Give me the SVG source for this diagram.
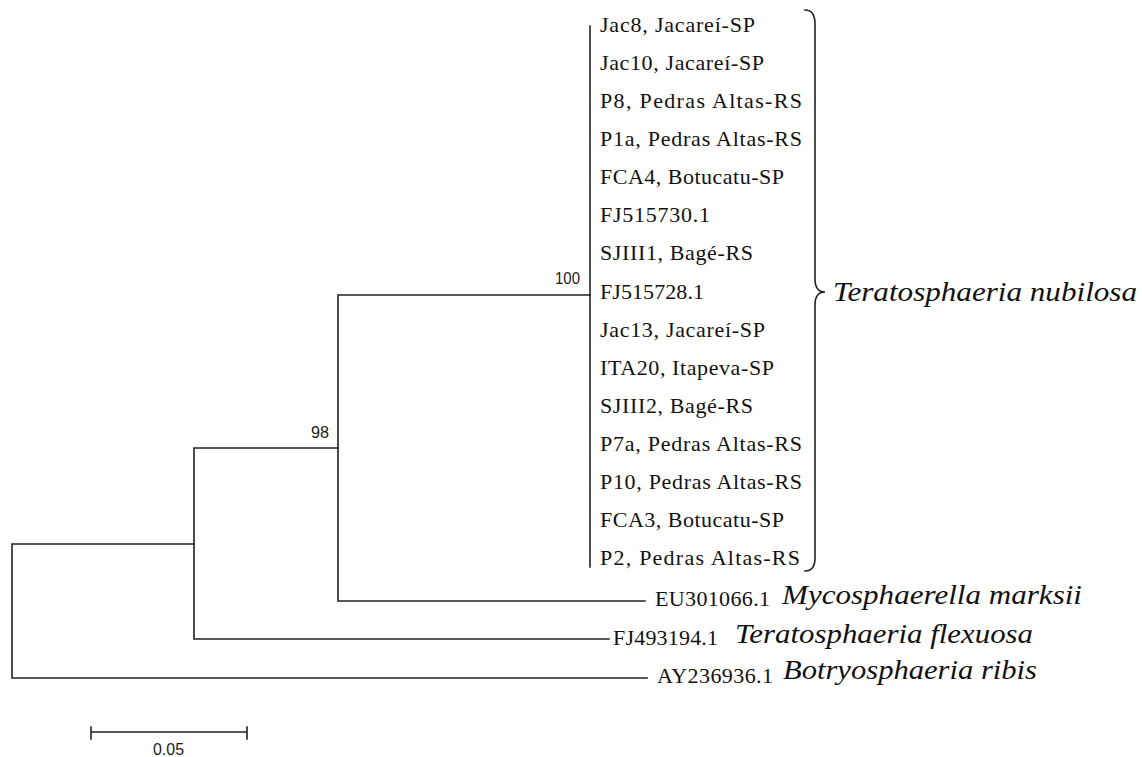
<svg xmlns="http://www.w3.org/2000/svg" width="1142" height="757" viewBox="0 0 1142 757">
<style>
.br{fill:none;stroke:#222;stroke-width:1.6;stroke-linecap:square}
.lbl{font-family:'Liberation Serif','Times New Roman',Tinos,serif;font-size:22px;fill:#111}
.sp{font-family:'Liberation Serif','Times New Roman',Tinos,serif;font-style:italic;font-size:28px;fill:#111}
.bs{font-family:'Liberation Sans',Arial,sans-serif;font-size:17px;fill:#222}
</style>
<rect width="1142" height="757" fill="#fff"/>
<g id="connectors">
<path class="br" d="M12 544 V678 M12 544 H194 M12 678 H647"/>
<path class="br" d="M194 448 V639 M194 448 H338 M194 639 H609"/>
<path class="br" d="M338 295 V601 M338 295 H590 M338 601 H645"/>
<path class="br" d="M590 26 V567"/>
<path class="br" d="M91 732 H247 M91 727 V739 M247 727 V739"/>
<path class="br" d="M805 10 Q815 10 815 24 L815 279 Q815 292 825 292 Q815 292 815 305 L815 558 Q815 571 805 571" stroke-width="1.8"/>
</g>
<g id="n-jac8"><text class="lbl" x="600" y="32" textLength="155" lengthAdjust="spacing">Jac8, Jacareí-SP</text></g>
<g id="n-jac10"><text class="lbl" x="600" y="70" textLength="164" lengthAdjust="spacing">Jac10, Jacareí-SP</text></g>
<g id="n-p8"><text class="lbl" x="600" y="108" textLength="202" lengthAdjust="spacing">P8, Pedras Altas-RS</text></g>
<g id="n-p1a"><text class="lbl" x="600" y="146" textLength="202" lengthAdjust="spacing">P1a, Pedras Altas-RS</text></g>
<g id="n-fca4"><text class="lbl" x="600" y="184" textLength="184" lengthAdjust="spacing">FCA4, Botucatu-SP</text></g>
<g id="n-fj515730"><text class="lbl" x="600" y="222" textLength="110" lengthAdjust="spacing">FJ515730.1</text></g>
<g id="n-sjiii1"><text class="lbl" x="600" y="260" textLength="153" lengthAdjust="spacing">SJIII1, Bagé-RS</text></g>
<g id="n-fj515728"><text class="lbl" x="600" y="299" textLength="104" lengthAdjust="spacing">FJ515728.1</text></g>
<g id="n-jac13"><text class="lbl" x="600" y="337" textLength="165" lengthAdjust="spacing">Jac13, Jacareí-SP</text></g>
<g id="n-ita20"><text class="lbl" x="600" y="375" textLength="174" lengthAdjust="spacing">ITA20, Itapeva-SP</text></g>
<g id="n-sjiii2"><text class="lbl" x="600" y="413" textLength="153" lengthAdjust="spacing">SJIII2, Bagé-RS</text></g>
<g id="n-p7a"><text class="lbl" x="600" y="451" textLength="202" lengthAdjust="spacing">P7a, Pedras Altas-RS</text></g>
<g id="n-p10"><text class="lbl" x="600" y="489" textLength="202" lengthAdjust="spacing">P10, Pedras Altas-RS</text></g>
<g id="n-fca3"><text class="lbl" x="600" y="527" textLength="184" lengthAdjust="spacing">FCA3, Botucatu-SP</text></g>
<g id="n-p2"><text class="lbl" x="600" y="565" textLength="200" lengthAdjust="spacing">P2, Pedras Altas-RS</text></g>
<g id="n-clade-name"><text class="sp" x="833" y="301" textLength="304" lengthAdjust="spacingAndGlyphs">Teratosphaeria nubilosa</text></g>
<g id="n-eu301066"><text class="lbl" x="655" y="606" textLength="115" lengthAdjust="spacing">EU301066.1</text><text class="sp" x="782" y="604" textLength="300" lengthAdjust="spacingAndGlyphs">Mycosphaerella marksii</text></g>
<g id="n-fj493194"><text class="lbl" x="613" y="645" textLength="105" lengthAdjust="spacing">FJ493194.1</text><text class="sp" x="735" y="643" textLength="298" lengthAdjust="spacingAndGlyphs">Teratosphaeria flexuosa</text></g>
<g id="n-ay236936"><text class="lbl" x="657" y="683" textLength="116" lengthAdjust="spacing">AY236936.1</text><text class="sp" x="783" y="679" textLength="254" lengthAdjust="spacingAndGlyphs">Botryosphaeria ribis</text></g>
<g id="n-bs100"><text class="bs" x="555" y="284" textLength="25" lengthAdjust="spacingAndGlyphs">100</text></g>
<g id="n-bs98"><text class="bs" x="311" y="438" textLength="18" lengthAdjust="spacingAndGlyphs">98</text></g>
<g id="n-scale"><text class="bs" x="153" y="755" textLength="31" lengthAdjust="spacingAndGlyphs">0.05</text></g>
</svg>
